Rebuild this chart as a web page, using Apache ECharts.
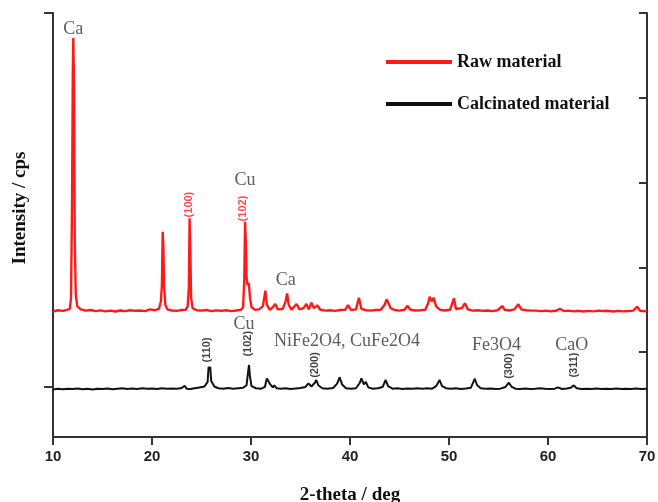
<!DOCTYPE html>
<html lang="en">
  <head>
    <meta charset="UTF-8" />
    <title>XRD</title>
    <style>
      html, body { margin: 0; padding: 0; background: #fff; }
      #main { width: 658px; height: 502px; }
    </style>
  </head>
  <body>
    <script src="https://cdn.jsdelivr.net/npm/echarts@6/dist/echarts.min.js"></script>
    <div id="main"></div>
    <script>
      const xTicks = [10, 20, 30, 40, 50, 60, 70]
      const seriesNames = ['Raw material', 'Calcinated material']

      // raw material pattern [2-theta, intensity]
      const rawData = [
        [10.0, 1480], [10.5, 1495], [11.0, 1488], [11.4, 1500], [11.7, 1510], [11.82, 1640], [11.92, 2700],
        [12.0, 4300], [12.05, 4705], [12.12, 4200], [12.2, 2300], [12.3, 1680], [12.45, 1540], [12.8, 1505],
        [13.3, 1490], [13.8, 1498], [14.3, 1485], [14.8, 1493], [15.3, 1482], [15.8, 1490], [16.3, 1480],
        [16.8, 1492], [17.3, 1485], [17.8, 1495], [18.3, 1488], [18.8, 1492], [19.3, 1485], [19.8, 1505],
        [20.3, 1495], [20.7, 1510], [20.9, 1600], [21.0, 1790], [21.08, 2420], [21.15, 2250], [21.22, 1780],
        [21.35, 1560], [21.55, 1505], [22.0, 1492], [22.5, 1488], [23.0, 1497], [23.4, 1500], [23.6, 1540],
        [23.72, 1760], [23.8, 2578], [23.88, 2150], [23.95, 1640], [24.1, 1520], [24.5, 1495], [25.0, 1490],
        [25.5, 1498], [26.0, 1485], [26.5, 1493], [27.0, 1488], [27.5, 1495], [28.0, 1485], [28.5, 1492],
        [29.0, 1500], [29.2, 1530], [29.32, 1850], [29.4, 2539], [29.48, 2300], [29.55, 1880], [29.65, 1790],
        [29.78, 1816], [29.9, 1640], [30.05, 1530], [30.4, 1500], [30.8, 1505], [31.2, 1540], [31.45, 1725],
        [31.6, 1560], [31.9, 1500], [32.2, 1530], [32.45, 1568], [32.7, 1505], [33.2, 1510], [33.5, 1600],
        [33.65, 1694], [33.8, 1560], [34.1, 1500], [34.6, 1568], [34.9, 1505], [35.3, 1520], [35.6, 1568],
        [35.85, 1505], [36.1, 1584], [36.35, 1520], [36.7, 1550], [37.0, 1500], [37.5, 1490], [38.0, 1495],
        [38.5, 1488], [39.0, 1497], [39.5, 1500], [39.8, 1556], [40.1, 1498], [40.6, 1505], [40.9, 1642],
        [41.15, 1510], [41.6, 1495], [42.1, 1490], [42.6, 1497], [43.1, 1500], [43.5, 1560], [43.7, 1623],
        [43.85, 1600], [44.1, 1520], [44.5, 1498], [45.0, 1490], [45.5, 1500], [45.8, 1548], [46.1, 1500],
        [46.6, 1492], [47.1, 1495], [47.6, 1500], [47.9, 1580], [48.05, 1654], [48.25, 1600], [48.45, 1640],
        [48.7, 1540], [49.1, 1500], [49.6, 1492], [50.1, 1500], [50.5, 1636], [50.7, 1510], [51.3, 1520],
        [51.6, 1577], [51.9, 1505], [52.4, 1490], [52.9, 1495], [53.4, 1488], [53.9, 1492], [54.4, 1485],
        [54.9, 1495], [55.4, 1545], [55.6, 1500], [56.1, 1492], [56.6, 1505], [57.0, 1565], [57.3, 1505],
        [57.8, 1495], [58.3, 1490], [58.5, 1505], [58.8, 1490], [59.3, 1485], [59.8, 1490], [60.3, 1482],
        [60.8, 1488], [61.2, 1512], [61.6, 1485], [62.1, 1490], [62.6, 1482], [63.1, 1488], [63.6, 1480],
        [64.1, 1487], [64.6, 1482], [65.1, 1490], [65.3, 1505], [65.6, 1485], [66.1, 1488], [66.6, 1480],
        [67.1, 1487], [67.6, 1482], [68.1, 1485], [68.6, 1490], [69.0, 1536], [69.3, 1488], [69.7, 1485],
        [70.0, 1482]
      ]

      // calcinated material pattern
      const calcData = [
        [10.0, 560], [10.5, 568], [11.0, 562], [11.5, 570], [12.0, 565], [12.5, 572], [13.0, 563], [13.5, 568],
        [14.0, 560], [14.5, 570], [15.0, 565], [15.5, 572], [16.0, 562], [16.5, 570], [17.0, 575], [17.5, 565],
        [18.0, 572], [18.5, 566], [19.0, 574], [19.5, 568], [20.0, 572], [20.5, 565], [21.0, 575], [21.5, 568],
        [22.0, 573], [22.5, 570], [23.0, 578], [23.3, 605], [23.5, 570], [23.9, 565], [24.3, 575], [24.8, 585],
        [25.3, 595], [25.62, 650], [25.72, 829], [25.8, 790], [25.88, 829], [25.98, 660], [26.3, 595], [26.7, 575],
        [27.2, 570], [27.7, 578], [28.2, 568], [28.7, 575], [29.2, 580], [29.55, 610], [29.72, 780], [29.8, 849],
        [29.88, 730], [30.05, 600], [30.5, 575], [31.0, 568], [31.4, 590], [31.6, 690], [31.75, 711], [31.95, 620],
        [32.2, 585], [32.35, 610], [32.6, 575], [33.0, 570], [33.5, 575], [34.0, 565], [34.5, 572], [35.0, 578],
        [35.5, 590], [35.8, 633], [36.1, 595], [36.45, 640], [36.6, 672], [36.8, 610], [37.2, 575], [37.7, 570],
        [38.3, 578], [38.7, 630], [38.95, 704], [39.2, 620], [39.6, 575], [40.1, 568], [40.6, 575], [41.0, 640],
        [41.15, 692], [41.4, 620], [41.6, 650], [41.85, 585], [42.3, 570], [42.8, 575], [43.3, 590], [43.6, 672],
        [43.85, 600], [44.3, 570], [44.8, 575], [45.3, 565], [45.8, 572], [46.3, 568], [46.8, 575], [47.3, 570],
        [47.8, 575], [48.3, 570], [48.7, 600], [49.05, 672], [49.3, 600], [49.7, 575], [50.2, 570], [50.7, 575],
        [51.2, 565], [51.7, 572], [52.2, 580], [52.5, 660], [52.6, 687], [52.85, 610], [53.2, 575], [53.7, 568],
        [54.2, 572], [54.7, 565], [55.2, 570], [55.7, 590], [56.05, 640], [56.3, 595], [56.7, 570], [57.2, 565],
        [57.7, 572], [58.2, 566], [58.7, 570], [59.2, 575], [59.4, 590], [59.7, 568], [60.2, 565], [60.7, 570],
        [61.0, 585], [61.4, 566], [61.9, 572], [62.3, 580], [62.6, 609], [62.9, 575], [63.4, 565], [63.9, 570],
        [64.4, 566], [64.9, 572], [65.4, 565], [65.9, 570], [66.4, 566], [66.9, 572], [67.4, 565], [67.9, 570],
        [68.4, 566], [68.9, 572], [69.4, 565], [70.0, 568]
      ]

      // phase names written over the peaks
      const phaseText = ['Ca', 'Cu', 'Ca', 'Cu', 'NiFe2O4, CuFe2O4', 'Fe3O4', 'CaO']
      const phaseAt = [[12.05, 4811], [29.4, 3030], [33.5, 1851], [29.3, 1332], [39.7, 1124], [54.8, 1085], [62.4, 1085]]

      // miller indices
      const rawPlanes = ['(100)', '(102)']
      const rawPlaneAt = [[23.74, 2741], [29.2, 2694]]
      const calcPlanes = ['(110)', '(102)', '(200)', '(300)', '(311)']
      const calcPlaneAt = [[25.6, 1026], [29.65, 1100], [36.5, 849], [56.06, 837], [62.6, 849]]

      const baselineTick = 590

      const axisColor = '#333'
      const serif = 'Liberation Serif'

      const chart = echarts.init(document.getElementById('main'))

      const textItems = [
        ...phaseText.map((t, i) => ({
          name: t,
          value: phaseAt[i],
          label: { fontFamily: serif, fontSize: 18, color: '#333' }
        })),
        ...rawPlanes.map((t, i) => ({
          name: t,
          value: rawPlaneAt[i],
          label: { rotate: 90, fontFamily: 'Liberation Sans', fontWeight: 'bold', fontSize: 11, color: '#ff1a1a' }
        })),
        ...calcPlanes.map((t, i) => ({
          name: t,
          value: calcPlaneAt[i],
          label: { rotate: 90, fontFamily: 'Liberation Sans', fontWeight: 'bold', fontSize: 11, color: '#111' }
        }))
      ]

      chart.setOption({
        animation: false,
        grid: { left: 53, right: 11, top: 13, bottom: 65, outerBoundsMode: 'none' },
        legend: {
          data: seriesNames,
          orient: 'vertical',
          left: 381,
          top: 48,
          icon: 'rect',
          itemWidth: 66,
          itemHeight: 4,
          itemGap: 24,
          textStyle: { fontFamily: serif, fontWeight: 'bold', fontSize: 18, color: '#111' }
        },
        xAxis: [
          {
            type: 'value',
            min: 10,
            max: 70,
            interval: 10,
            name: '2-theta / deg',
            nameLocation: 'middle',
            nameGap: 49,
            nameTextStyle: { fontFamily: serif, fontWeight: 'bold', fontSize: 19, color: '#111' },
            axisLine: { lineStyle: { color: axisColor, width: 2 } },
            axisTick: { show: true, inside: false, length: 8, lineStyle: { color: axisColor, width: 2 } },
            axisLabel: {
              margin: 12,
              fontFamily: 'Liberation Sans',
              fontWeight: 'bold',
              fontSize: 15,
              color: '#222',
              formatter: (v) => (xTicks.includes(v) ? String(v) : '')
            },
            splitLine: { show: false }
          },
          {
            type: 'value',
            position: 'top',
            min: 10,
            max: 70,
            interval: 10,
            axisLine: { show: true, lineStyle: { color: axisColor, width: 2 } },
            axisTick: { show: false },
            axisLabel: { show: false },
            splitLine: { show: false }
          }
        ],
        yAxis: [
          {
            type: 'value',
            min: 0,
            max: 5000,
            interval: 1000,
            axisLine: { show: true, lineStyle: { color: axisColor, width: 2 } },
            axisTick: {
              show: true,
              inside: false,
              length: 9,
              customValues: [baselineTick, 5000],
              lineStyle: { color: axisColor, width: 2 }
            },
            axisLabel: { show: false },
            splitLine: { show: false }
          },
          {
            type: 'value',
            position: 'right',
            min: 0,
            max: 5000,
            interval: 1000,
            axisLine: { show: true, lineStyle: { color: axisColor, width: 2 } },
            axisTick: { show: true, inside: true, length: 8, lineStyle: { color: axisColor, width: 2 } },
            axisLabel: { show: false },
            splitLine: { show: false }
          }
        ],
        graphic: [
          {
            type: 'text',
            x: 20,
            y: 208,
            rotation: Math.PI / 2,
            style: {
              text: 'Intensity / cps',
              font: 'bold 19px "Liberation Serif"',
              fill: '#111',
              align: 'center',
              verticalAlign: 'middle'
            }
          }
        ],
        series: [
          {
            name: seriesNames[0],
            type: 'line',
            data: rawData,
            showSymbol: false,
            symbol: 'none',
            color: '#ff1a1a',
            lineStyle: { color: '#ff1a1a', width: 2.4 },
            z: 3
          },
          {
            name: seriesNames[1],
            type: 'line',
            data: calcData,
            showSymbol: false,
            symbol: 'none',
            color: '#111',
            lineStyle: { color: '#111', width: 2 },
            z: 3
          },
          {
            name: 'labels',
            type: 'scatter',
            silent: true,
            symbolSize: 0,
            data: textItems,
            label: {
              show: true,
              position: 'inside',
              formatter: (p) => p.name
            },
            z: 5
          }
        ]
      })
    </script>
  </body>
</html>
